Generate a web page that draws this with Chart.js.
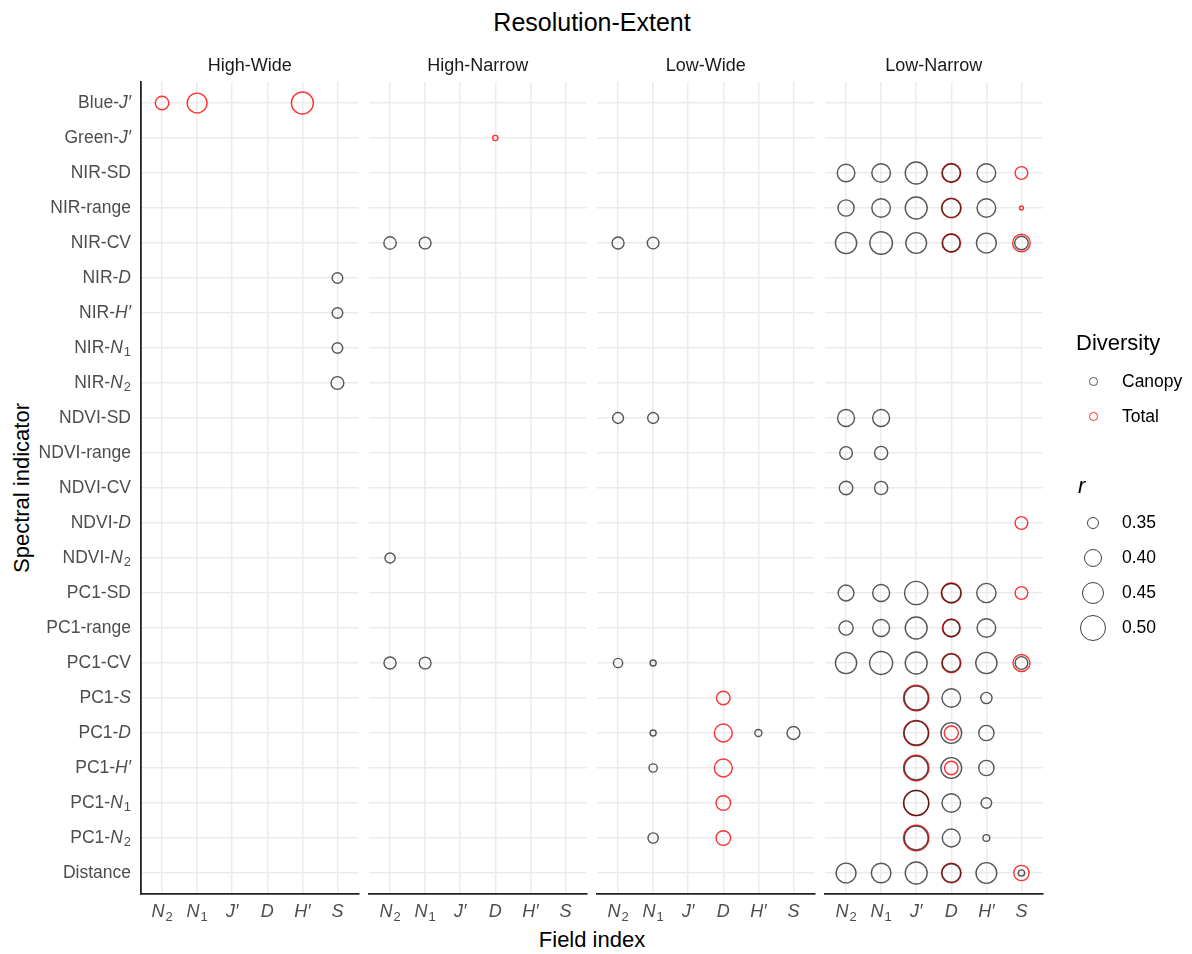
<!DOCTYPE html>
<html>
<head>
<meta charset="utf-8">
<title>Resolution-Extent</title>
<script src="https://cdn.jsdelivr.net/npm/chart.js@4/dist/chart.umd.min.js"></script>
<style>
  html, body { margin: 0; padding: 0; background: #fff; }
  #fig { position: relative; width: 1192px; height: 954px; overflow: hidden; background: #fff;
         font-family: "Liberation Sans", Arial, sans-serif; }
  #fig canvas { position: absolute; left: 0; top: 0; }
  .txt { position: absolute; white-space: nowrap; transform: translate(-50%, -50%); line-height: 1; }
  .lt { position: absolute; white-space: nowrap; transform: translate(0, -50%); line-height: 1; }
  .key { position: absolute; box-sizing: border-box; border-radius: 50%; border-style: solid; }
</style>
</head>
<body>
<div id="fig">
  <div class="txt" style="left:592px; top:22px; font-size:25px; color:#000;">Resolution-Extent</div>
  <div class="txt" style="left:592px; top:940px; font-size:22px; color:#000;">Field index</div>
  <div class="txt" style="left:22px; top:488px; font-size:22px; color:#000; transform: translate(-50%, -50%) rotate(-90deg);">Spectral indicator</div>
</div>
<script>
// Categories
const fieldIndex = ["N2", "N1", "J′", "D", "H′", "S"];
const indicators = [
  "Blue-J′", "Green-J′", "NIR-SD", "NIR-range", "NIR-CV", "NIR-D", "NIR-H′", "NIR-N1", "NIR-N2",
  "NDVI-SD", "NDVI-range", "NDVI-CV", "NDVI-D", "NDVI-N2",
  "PC1-SD", "PC1-range", "PC1-CV", "PC1-S", "PC1-D", "PC1-H′", "PC1-N1", "PC1-N2", "Distance"
];
const panelNames = ["High-Wide", "High-Narrow", "Low-Wide", "Low-Narrow"];
const diversityNames = ["Canopy", "Total"];
const rLegendValues = [0.35, 0.40, 0.45, 0.50];

// Correlations: [field index, spectral indicator, r]
const highWideCanopy = [
  ["S", "NIR-D", 0.35], ["S", "NIR-H′", 0.35], ["S", "NIR-N1", 0.35], ["S", "NIR-N2", 0.365]
];
const highWideTotal = [
  ["N2", "Blue-J′", 0.37], ["N1", "Blue-J′", 0.43], ["H′", "Blue-J′", 0.455]
];
const highNarrowCanopy = [
  ["N2", "NIR-CV", 0.362], ["N1", "NIR-CV", 0.358],
  ["N2", "NDVI-N2", 0.347],
  ["N2", "PC1-CV", 0.36], ["N1", "PC1-CV", 0.358]
];
const highNarrowTotal = [
  ["D", "Green-J′", 0.324]
];
const lowWideCanopy = [
  ["N2", "NIR-CV", 0.359], ["N1", "NIR-CV", 0.357],
  ["N2", "NDVI-SD", 0.352], ["N1", "NDVI-SD", 0.352],
  ["N2", "PC1-CV", 0.342], ["N1", "PC1-CV", 0.327],
  ["N1", "PC1-D", 0.327], ["H′", "PC1-D", 0.331], ["S", "PC1-D", 0.366],
  ["N1", "PC1-H′", 0.337],
  ["N1", "PC1-N2", 0.348]
];
const lowWideTotal = [
  ["D", "PC1-S", 0.371], ["D", "PC1-D", 0.41], ["D", "PC1-H′", 0.41],
  ["D", "PC1-N1", 0.379], ["D", "PC1-N2", 0.379]
];
const lowNarrowCanopy = [
  ["N2", "NIR-SD", 0.406], ["N1", "NIR-SD", 0.417], ["J′", "NIR-SD", 0.454], ["D", "NIR-SD", 0.41], ["H′", "NIR-SD", 0.417],
  ["N2", "NIR-range", 0.393], ["N1", "NIR-range", 0.417], ["J′", "NIR-range", 0.454], ["D", "NIR-range", 0.418], ["H′", "NIR-range", 0.417],
  ["N2", "NIR-CV", 0.446], ["N1", "NIR-CV", 0.462], ["J′", "NIR-CV", 0.44], ["D", "NIR-CV", 0.405], ["H′", "NIR-CV", 0.43], ["S", "NIR-CV", 0.371],
  ["N2", "NDVI-SD", 0.40], ["N1", "NDVI-SD", 0.40],
  ["N2", "NDVI-range", 0.364], ["N1", "NDVI-range", 0.368],
  ["N2", "NDVI-CV", 0.371], ["N1", "NDVI-CV", 0.368],
  ["N2", "PC1-SD", 0.39], ["N1", "PC1-SD", 0.40], ["J′", "PC1-SD", 0.47], ["D", "PC1-SD", 0.422], ["H′", "PC1-SD", 0.424],
  ["N2", "PC1-range", 0.376], ["N1", "PC1-range", 0.40], ["J′", "PC1-range", 0.454], ["D", "PC1-range", 0.40], ["H′", "PC1-range", 0.417],
  ["N2", "PC1-CV", 0.446], ["N1", "PC1-CV", 0.467], ["J′", "PC1-CV", 0.454], ["D", "PC1-CV", 0.41], ["H′", "PC1-CV", 0.446], ["S", "PC1-CV", 0.364],
  ["J′", "PC1-S", 0.478], ["D", "PC1-S", 0.417], ["H′", "PC1-S", 0.354],
  ["J′", "PC1-D", 0.482], ["D", "PC1-D", 0.44], ["H′", "PC1-D", 0.385],
  ["J′", "PC1-H′", 0.476], ["D", "PC1-H′", 0.44], ["H′", "PC1-H′", 0.385],
  ["J′", "PC1-N1", 0.492], ["D", "PC1-N1", 0.417], ["H′", "PC1-N1", 0.35],
  ["J′", "PC1-N2", 0.476], ["D", "PC1-N2", 0.41], ["H′", "PC1-N2", 0.33],
  ["N2", "Distance", 0.43], ["N1", "Distance", 0.427], ["J′", "Distance", 0.454], ["D", "Distance", 0.417], ["H′", "Distance", 0.44], ["S", "Distance", 0.328]
];
const lowNarrowTotal = [
  ["D", "NIR-SD", 0.42], ["S", "NIR-SD", 0.364],
  ["D", "NIR-range", 0.428], ["S", "NIR-range", 0.32],
  ["D", "NIR-CV", 0.417], ["S", "NIR-CV", 0.406],
  ["S", "NDVI-D", 0.364],
  ["D", "PC1-SD", 0.432], ["S", "PC1-SD", 0.364],
  ["D", "PC1-range", 0.41],
  ["D", "PC1-CV", 0.424], ["S", "PC1-CV", 0.40],
  ["J′", "PC1-S", 0.50],
  ["J′", "PC1-D", 0.497], ["D", "PC1-D", 0.374],
  ["J′", "PC1-H′", 0.50], ["D", "PC1-H′", 0.37],
  ["J′", "PC1-N1", 0.498],
  ["J′", "PC1-N2", 0.50],
  ["D", "Distance", 0.428], ["S", "Distance", 0.385]
];

const panelData = [
  [highWideCanopy, highWideTotal],
  [highNarrowCanopy, highNarrowTotal],
  [lowWideCanopy, lowWideTotal],
  [lowNarrowCanopy, lowNarrowTotal]
];

// Styling
const W = 1192, H = 954;
const FONT = '"Liberation Sans", Arial, sans-serif';
const diversityColors = ["rgba(0,0,0,0.66)", "rgba(255,0,0,0.8)"];
const panelLeft = [141, 369, 597, 825];
const panelWidth = 217.5;
const areaTop = 82, areaBottom = 894;
const STROKE = 1.4;

// Area-proportional radius for r (path radius, stroke excluded)
function sizeScale(v) {
  return Math.sqrt(Math.max(960 * v - 300, 4)) - 0.7;
}

const indexSet = new Set(fieldIndex);
// Split a label into plain / italic / subscript runs
function richRuns(label) {
  let prefix = "", sym = label;
  if (!indexSet.has(label)) {
    const k = label.lastIndexOf("-");
    const tail = label.slice(k + 1);
    if (k >= 0 && indexSet.has(tail)) { prefix = label.slice(0, k + 1); sym = tail; }
    else return [{ t: label, s: "n" }];
  }
  const runs = [];
  if (prefix) runs.push({ t: prefix, s: "n" });
  const m = sym.match(/^N(\d)$/);
  if (m) { runs.push({ t: "N", s: "i" }); runs.push({ t: m[1], s: "sub" }); }
  else runs.push({ t: sym, s: "i" });
  return runs;
}

function drawRich(ctx, label, x, y, align, size, color) {
  const runs = richRuns(label);
  const fontOf = s => s === "i" ? `italic ${size}px ${FONT}` : s === "sub" ? `${Math.round(size * 0.72)}px ${FONT}` : `${size}px ${FONT}`;
  let total = 0;
  runs.forEach(r => { ctx.font = fontOf(r.s); r.w = ctx.measureText(r.t).width + (r.s === "sub" ? 1 : 0); total += r.w; });
  let cx = align === "right" ? x - total : align === "center" ? x - total / 2 : x;
  ctx.save();
  ctx.fillStyle = color;
  ctx.textBaseline = "middle";
  ctx.textAlign = "left";
  runs.forEach(r => {
    ctx.font = fontOf(r.s);
    const dy = r.s === "sub" ? size * 0.28 : 0;
    ctx.fillText(r.t, cx + (r.s === "sub" ? 1 : 0), y + dy);
    cx += r.w;
  });
  ctx.restore();
}

// Tick labels are placed through the chart's own scales
const tickLabelPlugin = {
  id: "richTicks",
  afterDraw(chart, args, opts) {
    const ctx = chart.ctx;
    const xs = chart.scales.x, ys = chart.scales.y;
    xs.ticks.forEach(t => drawRich(ctx, fieldIndex[t.value], xs.getPixelForValue(t.value), 912, "center", 18, "#4d4d4d"));
    if (opts.yLabels) {
      ys.ticks.forEach(t => drawRich(ctx, indicators[t.value], chart.chartArea.left - 10, ys.getPixelForValue(t.value), "right", 17.5, "#4d4d4d"));
    }
  }
};

function toPoints(rows) {
  return rows.map(([f, s, r]) => ({ x: fieldIndex.indexOf(f), y: indicators.indexOf(s), v: r }));
}

const fig = document.getElementById("fig");

panelData.forEach((sets, p) => {
  const canvas = document.createElement("canvas");
  canvas.width = W; canvas.height = H;
  canvas.style.width = W + "px"; canvas.style.height = H + "px";
  fig.appendChild(canvas);

  const strip = document.createElement("div");
  strip.className = "txt";
  strip.style.cssText = `left:${panelLeft[p] + panelWidth / 2}px; top:65px; font-size:18px; color:#1a1a1a;`;
  strip.textContent = panelNames[p];
  fig.appendChild(strip);

  const grid = { color: "#ebebeb", lineWidth: 1.5, drawTicks: false, tickLength: 0 };
  new Chart(canvas, {
    type: "scatter",
    data: {
      datasets: sets.map((rows, d) => ({
        label: diversityNames[d],
        data: toPoints(rows),
        showLine: false,
        backgroundColor: "rgba(0,0,0,0)",
        borderColor: diversityColors[d],
        pointBackgroundColor: "rgba(0,0,0,0)",
        pointBorderColor: diversityColors[d],
        pointBorderWidth: STROKE,
        pointRadius: ctx => sizeScale(ctx.raw.v),
        pointHoverRadius: ctx => sizeScale(ctx.raw.v)
      }))
    },
    options: {
      responsive: false,
      animation: false,
      events: [],
      devicePixelRatio: 1,
      layout: { padding: { left: panelLeft[p], right: W - panelLeft[p] - panelWidth, top: areaTop, bottom: H - areaBottom } },
      plugins: { legend: { display: false }, tooltip: { enabled: false }, richTicks: { yLabels: p === 0 } },
      scales: {
        x: {
          type: "linear", position: "bottom", min: -0.6, max: fieldIndex.length - 0.4,
          afterBuildTicks: s => { s.ticks = fieldIndex.map((_, i) => ({ value: i })); },
          afterFit: s => { s.height = 0; },
          ticks: { display: false },
          grid: grid,
          border: { display: true, color: "#222", width: 1.8 }
        },
        y: {
          type: "linear", position: "left", reverse: true, min: -0.6, max: indicators.length - 0.4,
          afterBuildTicks: s => { s.ticks = indicators.map((_, i) => ({ value: i })); },
          afterFit: s => { s.width = 0; },
          ticks: { display: false },
          grid: grid,
          border: { display: p === 0, color: "#222", width: 1.8 }
        }
      }
    },
    plugins: [tickLabelPlugin]
  });
});

// Legend: colour keys and size keys
function addText(txt, x, y, size, style) {
  const el = document.createElement("div");
  el.className = "lt";
  el.style.cssText = `left:${x}px; top:${y}px; font-size:${size}px; color:#000; ${style || ""}`;
  el.textContent = txt;
  fig.appendChild(el);
}
function addKey(cx, cy, r, color) {
  const el = document.createElement("div");
  el.className = "key";
  const d = 2 * r + STROKE;
  el.style.cssText = `left:${cx - d / 2}px; top:${cy - d / 2}px; width:${d}px; height:${d}px; border-width:${STROKE}px; border-color:${color};`;
  fig.appendChild(el);
}
addText("Diversity", 1076, 343, 22);
diversityNames.forEach((name, i) => {
  const y = 381.5 + i * 35;
  addKey(1093.5, y, 3.6, diversityColors[i]);
  addText(name, 1122, y, 17.5);
});
addText("r", 1078, 486, 22, "font-style:italic;");
rLegendValues.forEach((v, i) => {
  const y = 523 + i * 35;
  addKey(1093, y, sizeScale(v), "rgba(0,0,0,0.75)");
  addText(v.toFixed(2), 1122, y, 17.5);
});
</script>
</body>
</html>
